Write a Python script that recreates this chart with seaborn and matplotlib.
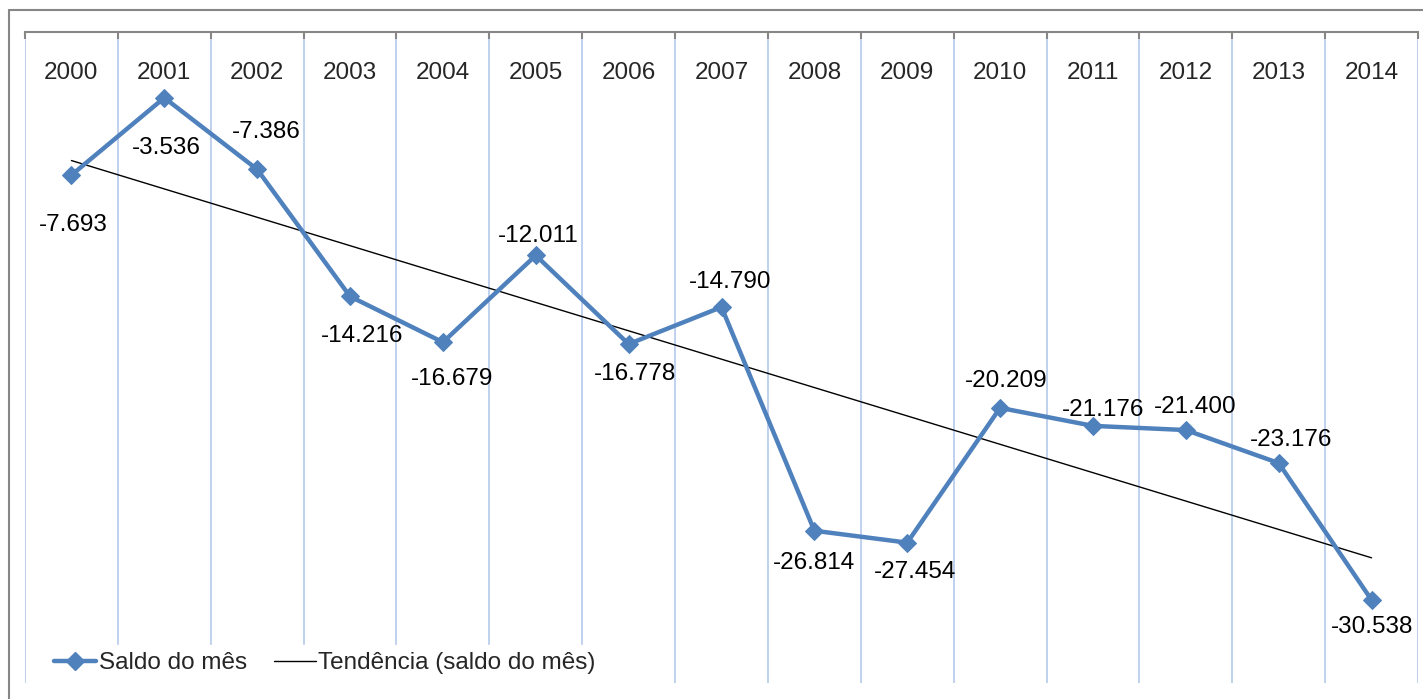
import numpy as np
import pandas as pd
import matplotlib.pyplot as plt
from matplotlib.lines import Line2D
from matplotlib.ticker import FixedLocator
import seaborn as sns

# ── Data ────────────────────────────────────────────────
years = ['2000', '2001', '2002', '2003', '2004', '2005', '2006', '2007',
         '2008', '2009', '2010', '2011', '2012', '2013', '2014']
saldo = [-7693, -3536, -7386, -14216, -16679, -12011, -16778, -14790,
         -26814, -27454, -20209, -21176, -21400, -23176, -30538]

# label offsets (pixels) relative to each point
label_off = [(2, -50), (2, -50), (9, 37), (12, -40), (9, -37), (2, 19),
             (6, -30), (9, 25), (0, -32), (8, -29), (6, 27), (10, 16),
             (9, 23), (12, 23), (0, -27)]

# ── Style ────────────────────────────────────────────────
sns.set_style('white')
plt.rcParams['font.family'] = ['Liberation Sans', 'DejaVu Sans']
BLUE = '#4F81BD'
GRID = '#B4C9EA'
FS = 17.5

df = pd.DataFrame({'pos': np.arange(len(years)), 'saldo': saldo})

fig = plt.figure(figsize=(14.23, 6.99), dpi=100)
ax = fig.add_axes([25 / 1423, 1 - 683 / 699, (1418 - 25) / 1423, (683 - 32) / 699])

sns.lineplot(data=df, x='pos', y='saldo', ax=ax, color=BLUE, linewidth=3.2,
             marker='D', markersize=9, markeredgecolor=BLUE, zorder=3)

# linear trend
coef = np.polyfit(df['pos'], df['saldo'], 1)
ax.plot(df['pos'], np.polyval(coef, df['pos']), color='black', linewidth=1, zorder=2)

for i, v in enumerate(saldo):
    txt = f'{v:,}'.replace(',', '.')
    ax.annotate(txt, (i, v), xytext=label_off[i], textcoords='offset pixels',
                ha='center', va='center', fontsize=FS, color='black', zorder=4)

ax.set_xlim(-0.5, len(years) - 0.5)
ax.set_ylim(-35000, 0)
ax.yaxis.set_visible(False)
ax.set_xlabel(''); ax.set_ylabel('')

ax.xaxis.tick_top()
ax.set_xticks(np.arange(len(years)))
ax.set_xticklabels(years, fontsize=FS)
ax.xaxis.set_minor_locator(FixedLocator(np.arange(-0.5, len(years), 1)))
ax.tick_params(axis='x', which='major', length=0, pad=-37.5)
ax.tick_params(axis='x', which='minor', direction='in', length=5, width=1.5,
               color='#868686', top=True, bottom=False)
ax.grid(True, which='minor', axis='x', color=GRID, linewidth=1.2)
ax.grid(False, which='major')

for s in ['left', 'right', 'bottom']:
    ax.spines[s].set_visible(False)
ax.spines['top'].set_color('#868686')
ax.spines['top'].set_linewidth(1.5)

handles = [Line2D([], [], color=BLUE, linewidth=3.2, marker='D', markersize=9),
           Line2D([], [], color='black', linewidth=1)]
leg = ax.legend(handles, ['Saldo do mês', 'Tendência (saldo do mês)'],
                loc='lower left', bbox_to_anchor=(0.0145, 0.0), ncol=2,
                fontsize=FS, frameon=True, facecolor='white', edgecolor='white',
                framealpha=1, handlelength=1.75, handletextpad=0.1,
                columnspacing=1.1, borderaxespad=0.05, borderpad=0.3)
leg.set_zorder(5)

# outer chart frame
fig.add_artist(Line2D([9 / 1423, 9 / 1423], [0, 1 - 10 / 699], color='#868686', linewidth=1.5))
fig.add_artist(Line2D([9 / 1423, 1], [1 - 10 / 699, 1 - 10 / 699], color='#868686', linewidth=1.5))

fig.savefig('out.png', dpi=100, facecolor='white')
